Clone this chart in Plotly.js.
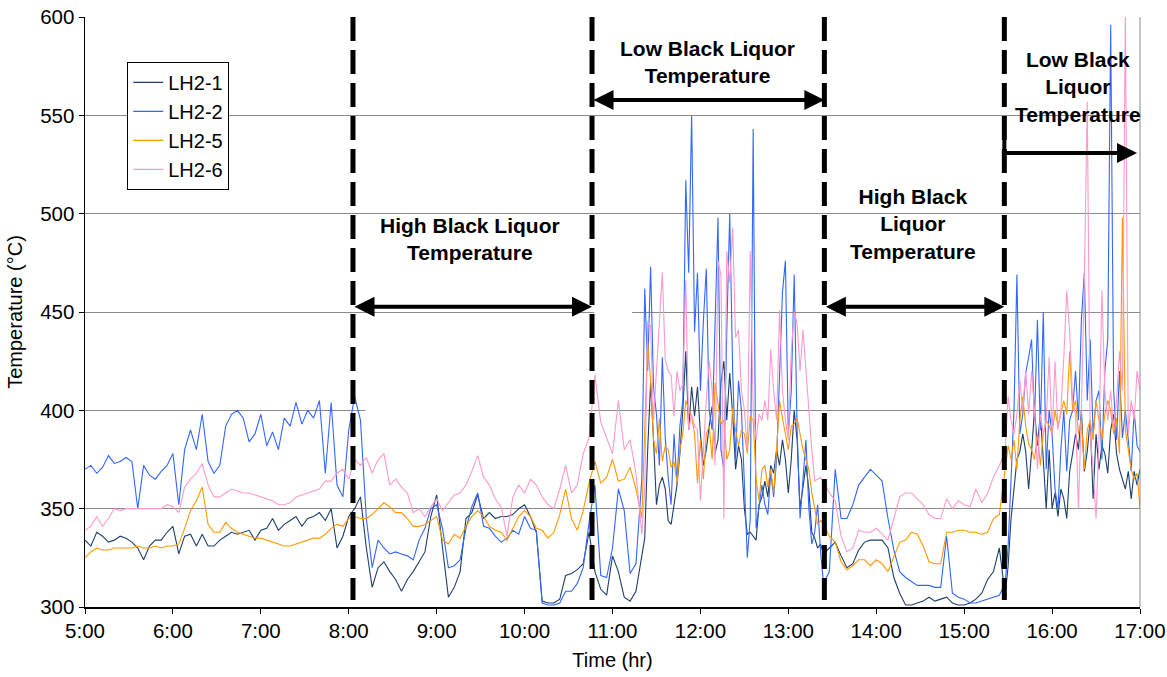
<!DOCTYPE html>
<html>
<head>
<meta charset="utf-8">
<script src="https://cdn.plot.ly/plotly-3.0.1.min.js"></script>
<style>html,body{margin:0;padding:0;background:#fff;}#chart{width:1167px;height:677px;}</style>
</head>
<body>
<div id="chart"></div>
<script>
// Sampling segments (start hour, step in minutes)
const segStarts = [5, 11 + 20/60, 13 + 24/60, 15 + 28/60];
const segSteps = [4, 2, 4, 2];

// Tick labels
const tickHours = [5,6,7,8,9,10,11,12,13,14,15,16,17];
const tickLabels = ['5:00','6:00','7:00','8:00','9:00','10:00','11:00','12:00','13:00','14:00','15:00','16:00','17:00'];
const seriesNames = ['LH2-1','LH2-2','LH2-5','LH2-6'];

// LH2-1 (dark blue)
const lh21A = [334,331,338,336,333,334,336,335,333,330,324,331,334,334,338,
  341,327,336,337,331,337,331,331,334,336,338,337,338,339,334,
  339,340,345,339,342,344,346,341,345,346,348,344,350,330,336,
  346,350,356,330,310,320,323,318,314,308,314,318,323,328,346,
  357,330,305,310,318,345,348,357,345,348,345,346,346,347,350,
  352,346,338,303,302,302,304,316,317,319,322,338,318,309,306,
  326,318,305,303,308];
const lh21B = [326,335,380,414,385,352,362,366,360,344,342,352,362,378,400,430,390,412,397,412,
  388,372,380,392,402,378,385,414,425,395,419,398,370,382,375,350,337,338,336,334,
  352,356,364,356,372,368,380,372,385,375,358,375,400,385,350,362,372,360,338,335,330,332];
const lh21C = [327,330,333,326,320,322,329,333,334,334,334,330,315,307,301,301,302,303,305,303,304,305,302,301,301,302,304,307,314,318,330];
const lh21D = [306,321,345,360,375,379,388,379,360,379,400,382,398,375,350,380,350,358,346,360,355,345,369,378,
  388,380,400,369,379,395,355,388,370,382,378,368,390,398,378,370,365,360,369,355,369,362,370];

// LH2-2 (bright blue)
const lh22A = [370,372,368,371,377,373,374,376,374,350,372,367,365,369,372,
  378,352,380,390,380,398,374,368,372,392,398,400,396,384,388,
  398,382,389,380,396,392,404,393,400,396,405,368,404,362,356,
  390,407,395,345,320,334,330,327,328,327,326,324,334,340,350,
  352,340,320,321,324,340,351,358,341,340,336,333,335,339,337,
  346,340,339,302,301,301,302,308,308,312,320,343,362,316,315,
  330,360,349,317,322];
const lh22B = [365,462,420,473,412,398,372,427,386,366,352,388,363,392,405,517,470,550,440,470,
  410,445,472,400,390,444,498,380,370,440,500,420,375,415,400,363,325,345,543,340,
  350,362,352,347,368,356,375,420,460,476,388,410,469,390,345,365,385,350,332,338,352,328];
const lh22C = [312,318,370,345,345,352,362,366,370,367,364,345,329,318,315,313,311,311,311,310,310,336,307,305,304,302,302,303,304,305,306];
const lh22D = [312,331,365,400,469,388,398,419,427,436,395,446,390,450,370,400,388,360,350,380,400,369,395,400,
  420,395,446,470,405,436,388,405,410,375,420,436,596,410,385,420,386,400,385,369,400,382,379];

// LH2-5 (orange)
const lh25A = [325,328,330,329,329,330,330,330,330,331,330,330,331,330,331,
  331,332,340,349,354,361,342,338,338,343,340,338,337,336,335,
  335,334,333,332,331,331,332,333,334,335,335,337,340,342,341,
  345,346,345,345,347,350,353,351,348,348,345,341,341,342,344,
  346,334,332,337,335,341,346,349,346,341,339,338,334,340,346,
  349,346,340,339,335,338,347,360,345,339,349,363,374,363,366,
  375,364,365,371,360];
const lh25B = [345,385,435,415,385,378,396,374,382,380,371,374,363,380,388,405,400,397,388,363,
  385,365,388,392,375,414,402,393,395,375,380,401,390,382,390,388,378,397,395,365,
  354,370,372,361,370,358,380,405,396,388,380,392,393,396,388,380,375,370,358,350,342,344];
const lh25C = [342,336,333,323,319,321,324,324,321,324,322,318,326,333,334,338,337,331,323,322,322,338,338,339,339,338,338,337,338,345,347];
const lh25D = [369,382,375,385,370,395,407,392,383,380,375,388,372,388,395,392,388,400,392,398,405,398,430,400,
  405,388,395,370,390,395,385,405,395,385,398,405,400,388,396,378,498,390,380,370,365,368,350];

// LH2-6 (pink)
const lh26A = [339,341,346,341,345,350,349,350,350,350,350,350,350,350,352,
  351,348,361,365,368,373,362,356,356,358,360,359,358,358,357,
  356,355,354,352,352,353,356,357,358,359,360,364,364,368,370,
  365,375,372,376,368,375,378,362,365,361,358,348,350,346,351,
  355,349,353,357,358,362,369,377,366,362,355,351,336,356,362,
  358,365,362,356,352,350,360,372,358,362,378,386,418,394,386,
  378,405,380,385,368];
const lh26B = [337,360,445,443,395,420,440,470,426,420,418,397,420,410,413,466,390,398,392,390,
  354,380,405,425,410,372,476,469,345,481,465,493,437,441,410,400,380,481,400,385,
  398,395,405,395,431,410,395,451,410,395,385,430,450,444,420,441,420,400,380,364,365,366];
const lh26C = [364,358,354,336,328,330,339,338,338,340,337,334,345,356,358,358,355,352,347,345,345,355,350,354,352,351,360,353,358,366,372];
const lh26D = [379,407,395,388,398,415,400,420,398,420,400,370,398,388,395,427,388,425,390,400,427,461,440,405,
  398,350,400,465,557,388,370,345,385,461,410,395,410,390,405,430,410,604,388,405,395,420,410];

function buildSeries(parts) {
  const xs = [], ys = [];
  parts.forEach((arr, k) => {
    arr.forEach((v, i) => { xs.push(segStarts[k] + i * segSteps[k] / 60); ys.push(v); });
  });
  return {xs, ys};
}

const allParts = [
  [lh21A, lh21B, lh21C, lh21D],
  [lh22A, lh22B, lh22C, lh22D],
  [lh25A, lh25B, lh25C, lh25D],
  [lh26A, lh26B, lh26C, lh26D]
];
const colors = ['#1c3f6e', '#3366ff', '#ff9900', '#ff99cc'];

const traces = allParts.map((parts, k) => {
  const s = buildSeries(parts);
  return {
    x: s.xs, y: s.ys, type: 'scatter', mode: 'lines', name: seriesNames[k],
    line: {color: colors[k], width: 1.1}
  };
});

// Phase boundaries (hours)
const boundaries = [8.048, 10.767, 13.41, 15.457];

const shapes = [];
// white patches hiding grid lines behind text boxes
shapes.push({type:'rect', xref:'x', yref:'y', x0:8.19, x1:10.727, y0:392, y1:408, fillcolor:'#ffffff', line:{width:0}, layer:'between'});
shapes.push({type:'rect', xref:'x', yref:'y', x0:10.79, x1:11.222, y0:445, y1:455, fillcolor:'#ffffff', line:{width:0}, layer:'between'});
boundaries.forEach(b => shapes.push({
  type:'line', xref:'x', yref:'y', x0:b, x1:b, y0:600, y1:303.5,
  line:{color:'#000000', width:5, dash:'24px,9px'}
}));
// right border
shapes.push({type:'line', xref:'paper', yref:'paper', x0:1, x1:1, y0:0, y1:1, line:{color:'#8a8a8a', width:1}});
// elbow for last arrow
shapes.push({type:'line', xref:'x', yref:'y', x0:boundaries[3], x1:boundaries[3], y0:538, y1:530.8, line:{color:'#000', width:4}});

const boldFont = {family:'Liberation Sans, Arial, sans-serif', size:21, color:'#000'};
const annotations = [
  {x:9.383, y:487, xref:'x', yref:'y', text:'<b>High Black Liquor<br>Temperature</b>', showarrow:false, font:boldFont, align:'center'},
  {x:12.08, y:577, xref:'x', yref:'y', text:'<b>Low Black Liquor<br>Temperature</b>', showarrow:false, font:boldFont, align:'center'},
  {x:14.416, y:494.7, xref:'x', yref:'y', text:'<b>High Black<br>Liquor<br>Temperature</b>', showarrow:false, font:boldFont, align:'center'},
  {x:16.29, y:564.4, xref:'x', yref:'y', text:'<b>Low Black<br>Liquor<br>Temperature</b>', showarrow:false, font:boldFont, align:'center'}
];
function arrow(x0, x1, y, both) {
  return {x:x1, y:y, ax:x0, ay:y, xref:'x', yref:'y', axref:'x', ayref:'y', text:'', showarrow:true,
    arrowhead:2, startarrowhead:2, arrowsize:1, startarrowsize:1, arrowwidth:4, arrowcolor:'#000',
    arrowside: both ? 'end+start' : 'end', standoff:0, startstandoff:0};
}
annotations.push(arrow(boundaries[0], boundaries[1], 452.7, true));
annotations.push(arrow(boundaries[1], boundaries[2], 557.8, true));
annotations.push(arrow(boundaries[2], boundaries[3], 452.7, true));
annotations.push(arrow(boundaries[3], 16.966, 530.8, false));

const tickFont = {family:'Liberation Sans, Arial, sans-serif', size:20.5, color:'#000'};
const titleFont = {family:'Liberation Sans, Arial, sans-serif', size:20, color:'#000'};

const layout = {
  width:1167, height:677,
  margin:{l:85, r:27, t:17, b:70},
  paper_bgcolor:'#ffffff', plot_bgcolor:'#ffffff',
  font: titleFont,
  showlegend:true,
  legend:{x:0.04, y:0.924, xanchor:'left', yanchor:'top', bgcolor:'#ffffff', bordercolor:'#000000', borderwidth:1,
    font:{family:'Liberation Sans, Arial, sans-serif', size:20, color:'#000'}, traceorder:'normal', itemwidth:30},
  xaxis:{range:[5,17], tickvals:tickHours, ticktext:tickLabels, showgrid:false, zeroline:false,
    showline:true, linecolor:'#000', linewidth:1.5, ticks:'outside', ticklen:5, tickcolor:'#000', tickwidth:1,
    tickfont:tickFont, title:{text:'Time (hr)', font:titleFont, standoff:12}},
  yaxis:{range:[300,600], dtick:50, tick0:300, showgrid:true, gridcolor:'#8a8a8a', gridwidth:1, zeroline:false,
    showline:true, linecolor:'#000', linewidth:1.5, ticks:'outside', ticklen:5, tickcolor:'#000', tickwidth:1,
    tickfont:tickFont, title:{text:'Temperature (°C)', font:titleFont, standoff:12}},
  shapes: shapes,
  annotations: annotations
};

Plotly.newPlot('chart', traces, layout, {staticPlot:true, displayModeBar:false});
</script>
</body>
</html>
